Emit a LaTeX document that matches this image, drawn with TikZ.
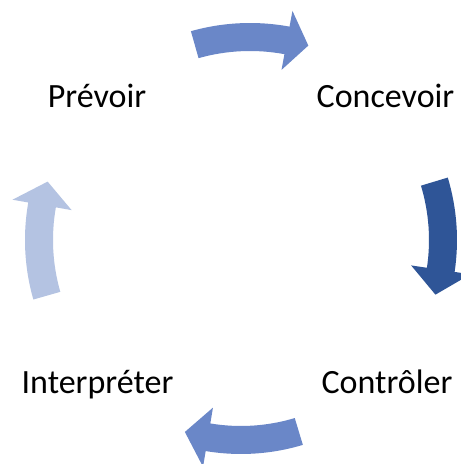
\documentclass[tikz,border=0pt]{standalone}
\usepackage{fontspec}
\setmainfont{Carlito}
\usetikzlibrary{calc}
\definecolor{arrowmid}{RGB}{106,135,200}
\definecolor{arrowdark}{RGB}{47,85,151}
\definecolor{arrowlight}{RGB}{180,195,226}
\newcommand\cycarrow[7]{%
  \pgfmathsetmacro\cyRo{#4+14}\pgfmathsetmacro\cyRi{#4-14}%
  \pgfmathsetmacro\cyHo{#4+30}\pgfmathsetmacro\cyHi{#4-30}%
  \fill[#1] ($(#2pt,#3pt)+(#5:\cyRo pt)$)
    arc[start angle=#5,end angle=#6,radius=\cyRo pt]
    -- ($(#2pt,#3pt)+(#6:\cyHo pt)$)
    -- ($(#2pt,#3pt)+(#7:#4pt)$)
    -- ($(#2pt,#3pt)+(#6:\cyHi pt)$)
    -- ($(#2pt,#3pt)+(#6:\cyRi pt)$)
    arc[start angle=#6,end angle=#5,radius=\cyRi pt]
    -- cycle;}
\begin{document}
\begin{tikzpicture}[x=1pt,y=1pt,
  label/.style={font=\fontsize{34}{40}\selectfont, anchor=base, inner sep=0pt}]
\useasboundingbox (0,0) rectangle (461,464);
\fill[white] (0,0) rectangle (461,464);
% arrows (centre x, centre y, radius, tail angle, head base angle, tip angle)
\cycarrow{arrowmid}{250}{224}{203}{105.8}{79.5}{73.3}
\cycarrow{arrowdark}{241}{224}{202}{16.8}{-8.5}{-15.7}
\cycarrow{arrowmid}{241}{224}{200}{-73.2}{-99.5}{-106.3}
\cycarrow{arrowlight}{241}{224}{202}{196}{170}{163.2}
% labels
\node[label] (prevoir) at (97,356) {Prévoir};
\node[label] (concevoir) at (385.5,356) {Concevoir};
\node[label] (interpreter) at (97.5,70) {Interpréter};
\node[label] (controler) at (387,70) {Contrôler};
\end{tikzpicture}
\end{document}
